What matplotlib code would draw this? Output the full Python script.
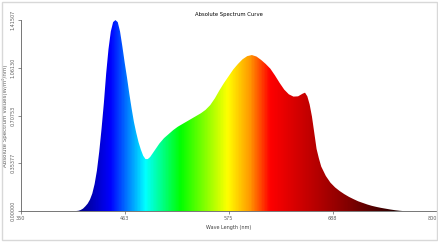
import matplotlib
matplotlib.use('Agg')
import matplotlib.pyplot as plt
import numpy as np
from matplotlib.colors import LinearSegmentedColormap
from matplotlib.patches import Rectangle

# spectrum (nm, W/m2/nm)
wavelength = [410, 412.5, 415, 417.5, 420, 422.5, 425, 427.5, 430, 432.5, 435, 437.5,
              440, 442.5, 445, 447.5, 450, 452.5, 455, 457.5, 460, 462.5, 465, 467.5,
              470, 472.5, 475, 477.5, 480, 482.5, 485, 487.5, 490, 492.5, 495, 500,
              505, 510, 515, 520, 525, 530, 535, 540, 545, 550, 555, 560, 565, 570,
              575, 580, 585, 590, 595, 600, 605, 610, 615, 620, 625, 630, 635, 640,
              645, 650, 655, 657.5, 660, 662.5, 665, 667.5, 670, 672.5, 675, 680,
              685, 690, 695, 700, 705, 710, 715, 720, 725, 730, 735, 740, 745, 750,
              755, 760, 763]
values = [0.0, 0.002, 0.008, 0.018, 0.035, 0.055, 0.085, 0.13, 0.20, 0.30, 0.44, 0.61,
          0.80, 1.02, 1.20, 1.33, 1.40, 1.415, 1.40, 1.33, 1.22, 1.10, 0.99, 0.87,
          0.76, 0.66, 0.58, 0.51, 0.455, 0.41, 0.385, 0.385, 0.40, 0.425, 0.45, 0.50,
          0.54, 0.57, 0.60, 0.625, 0.645, 0.665, 0.685, 0.705, 0.725, 0.75, 0.785, 0.835, 0.895, 0.95,
          1.00, 1.05, 1.09, 1.125, 1.148, 1.156, 1.145, 1.12, 1.09, 1.055, 1.005, 0.95, 0.90, 0.865,
          0.848, 0.85, 0.87, 0.877, 0.85, 0.79, 0.70, 0.58, 0.46, 0.39, 0.33, 0.26,
          0.21, 0.175, 0.148, 0.125, 0.105, 0.088, 0.072, 0.06, 0.048, 0.038, 0.03, 0.023, 0.017, 0.011,
          0.006, 0.002, 0.0]

xticks = [350, 462.5, 575, 687.5, 800]
xticklabels = ['350', '463', '575', '688', '800']
yticks = [0.0, 0.35377, 0.70753, 1.06130, 1.41507]
yticklabels = ['0.00000', '0.35377', '0.70753', '1.06130', '1.41507']

# wavelength -> colour stops
color_nm = [350, 414, 446, 484, 522, 573, 597, 619, 640, 673, 705, 760, 800]
color_rgb = ['#000060', '#00008c', '#0000ff', '#00ffff', '#00ff00', '#ffff00', '#ff9900',
             '#ff0000', '#e00000', '#b00000', '#800000', '#200000', '#100000']

fig = plt.figure(figsize=(4.39, 2.42), dpi=100)
ax = fig.add_axes([0.047, 0.128, 0.948, 0.789])

lo, hi = 350, 800
stops = [(n - lo) / (hi - lo) for n in color_nm]
cmap = LinearSegmentedColormap.from_list('spec', list(zip(stops, color_rgb)))
grad = np.linspace(0, 1, 900).reshape(1, -1)
img = ax.imshow(grad, cmap=cmap, aspect='auto', extent=[lo, hi, 0, 1.41507],
                origin='lower', zorder=2)
poly = ax.fill_between(wavelength, values, 0, facecolor='none', edgecolor='none')
clip = poly.get_paths()[0]
img.set_clip_path(clip, transform=ax.transData)

ax.set_xlim(lo, hi)
ax.set_ylim(0, 1.41507)
ax.set_xticks(xticks)
ax.set_xticklabels(xticklabels)
ax.get_xticklabels()[-1].set_ha('right')
ax.set_yticks(yticks)
ax.set_yticklabels(yticklabels, rotation=90, va='center')

for s in ['top', 'right']:
    ax.spines[s].set_visible(False)
for s in ['left', 'bottom']:
    ax.spines[s].set_color('#606060')
    ax.spines[s].set_linewidth(0.6)
ax.tick_params(labelsize=3.5, length=2, width=0.5, colors='#606060', pad=1.5)

ax.set_title('Absolute Spectrum Curve', fontsize=3.8, pad=3)
ax.set_xlabel('Wave Length (nm)', fontsize=3.5, color='#404040', labelpad=3)
ax.set_ylabel('Absolute Spectrum Values(W/m\u00b2/nm)', fontsize=4, color='#606060', labelpad=2)

fig.patches.append(Rectangle((0.005, 0.008), 0.99, 0.985, transform=fig.transFigure,
                             fill=False, edgecolor='#d8d8d8', linewidth=1))

fig.savefig('out.png', dpi=100)
